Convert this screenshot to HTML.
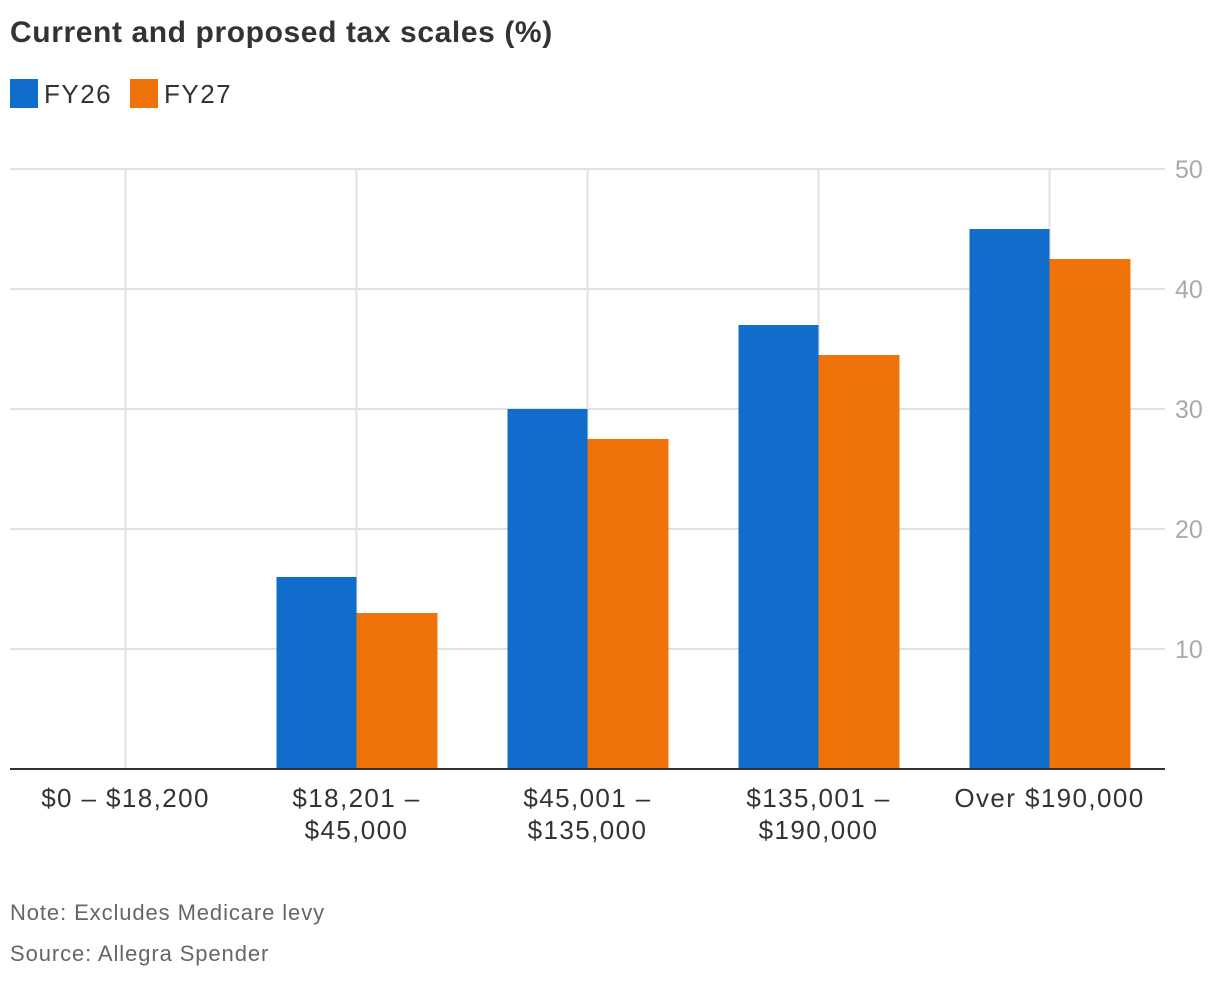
<!DOCTYPE html>
<html><head><meta charset="utf-8"><style>
body{margin:0;background:#fff;width:1220px;height:980px;overflow:hidden;font-family:"Liberation Sans",sans-serif}
</style></head><body>
<svg id="chart" width="1220" height="980" xmlns="http://www.w3.org/2000/svg">
<text x="10" y="42" font-size="30" font-weight="bold" fill="#333" letter-spacing="0.6">Current and proposed tax scales (%)</text>
<g>
<rect x="10" y="79" width="28" height="29" fill="#116dcb"/>
<text x="44" y="103" font-size="26" letter-spacing="1.5" fill="#333">FY26</text>
<rect x="130" y="79" width="28" height="29" fill="#f07309"/>
<text x="164" y="103" font-size="26" letter-spacing="1.5" fill="#333">FY27</text>
</g>
<g id="grid"></g><g id="bars"></g><g id="axes"></g>
<text x="10" y="920" font-size="22" letter-spacing="0.9" fill="#666">Note: Excludes Medicare levy</text>
<text x="10" y="961" font-size="22" letter-spacing="0.9" fill="#666">Source: Allegra Spender</text>
</svg>
<script>
const categories=[["$0 – $18,200"],["$18,201 –","$45,000"],["$45,001 –","$135,000"],["$135,001 –","$190,000"],["Over $190,000"]];
const fy26=[0,16,30,37,45];
const fy27=[0,13,27.5,34.5,42.5];
const yTicks=[10,20,30,40,50];
const NS="http://www.w3.org/2000/svg";
const L=10,R=1165,T=169,B=769,yMax=50;
const bw=(R-L)/categories.length;
const y=v=>B-(v/yMax)*(B-T);
const cx=i=>L+bw*(i+0.5);
function mk(tag,attrs,parent){const e=document.createElementNS(NS,tag);for(const k in attrs)e.setAttribute(k,attrs[k]);parent.appendChild(e);return e;}
const grid=document.getElementById('grid'),bars=document.getElementById('bars'),axes=document.getElementById('axes');
yTicks.forEach(t=>{
 const l=mk('line',{x1:L,x2:R,y1:y(t),y2:y(t),stroke:'#e2e2e2','stroke-width':2},grid);
 
 
 const tx=mk('text',{x:1175,y:y(t)+9,'font-size':25,fill:'#aaa'},axes);
 tx.textContent=t;
 
 
});
categories.forEach((c,i)=>{
 const v=mk('line',{x1:cx(i),x2:cx(i),y1:T,y2:B,stroke:'#e2e2e2','stroke-width':2},grid);
 
 
 const b1=mk('rect',{x:cx(i)-80,y:y(fy26[i]),width:80,height:B-y(fy26[i]),fill:'#116dcb'},bars);
 
 
 const b2=mk('rect',{x:cx(i),y:y(fy27[i]),width:81,height:B-y(fy27[i]),fill:'#f07309'},bars);
 
 
 c.forEach((line,j)=>{
  const t=mk('text',{x:cx(i),y:807+j*32,'font-size':26,'letter-spacing':1.4,fill:'#333','text-anchor':'middle'},axes);
  t.textContent=line;
  
  
 });
});
const base=mk('line',{x1:L,x2:R,y1:B,y2:B,stroke:'#333','stroke-width':2},axes);


</script>
</body></html>
